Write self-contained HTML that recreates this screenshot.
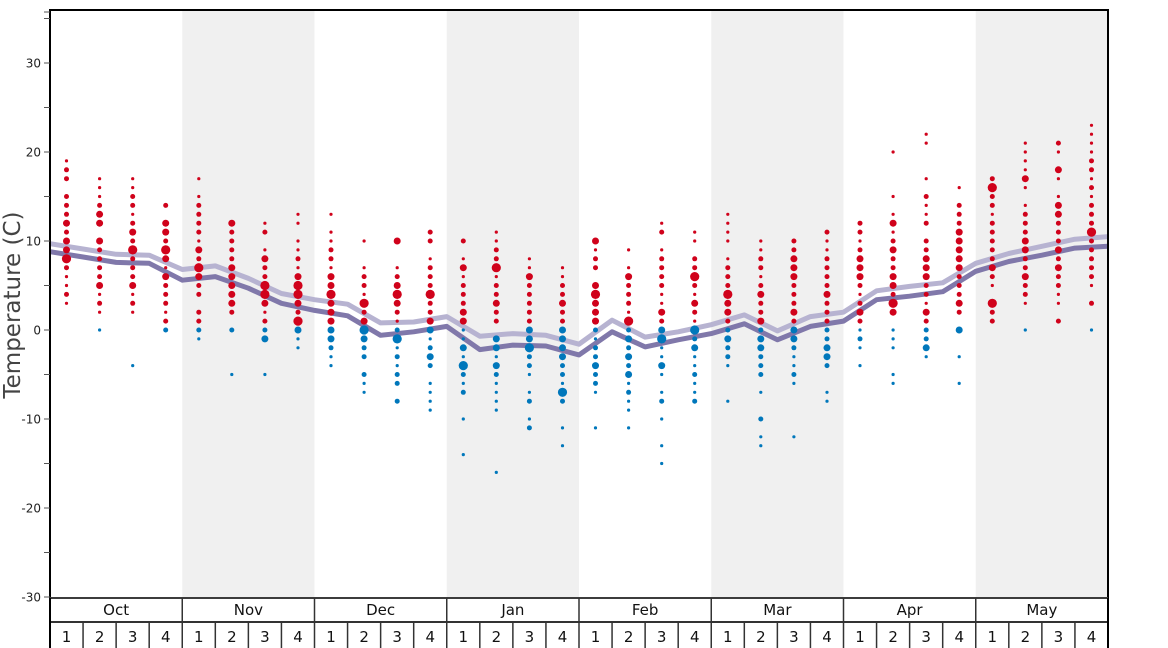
<!DOCTYPE html>
<html><head><meta charset="utf-8">
<style>
html,body{margin:0;padding:0;background:#fff;}
svg{display:block;font-family:"DejaVu Sans","Liberation Sans",sans-serif;}
</style></head>
<body>
<svg id="chart" width="1168" height="648" viewBox="0 0 1168 648"></svg>
<script>
const months = ["Oct","Nov","Dec","Jan","Feb","Mar","Apr","May"];
const weekLabels = ["1","2","3","4"];
const yTicks = [30,20,10,0,-10,-20,-30];
const yMinorTicks = [35,25,15,5,-5,-15,-25];
const lineDark = [8.8,8.2,7.6,7.5,5.6,6.0,4.7,3.0,2.2,1.6,-0.6,-0.2,0.4,-2.2,-1.7,-1.8,-2.8,-0.2,-1.9,-1.1,-0.4,0.7,-1.1,0.4,1.0,3.4,3.8,4.3,6.6,7.7,8.4,9.2,9.4];
const lineLight = [9.7,9.1,8.5,8.4,6.8,7.2,5.8,4.1,3.4,2.9,0.8,0.9,1.5,-0.7,-0.4,-0.6,-1.6,1.1,-0.8,-0.2,0.6,1.7,-0.1,1.5,2.0,4.4,4.9,5.3,7.5,8.6,9.4,10.2,10.5];
const w1=[[19,1],[18,2],[17,2],[15,2],[14,2],[13,2],[12,3],[11,2],[10,3],[9,3],[8,4],[7,2],[6,1],[5,1],[4,2],[3,1]];
const w2=[[17,1],[16,1],[15,1],[14,2],[13,3],[12,3],[10,3],[9,2],[8,2],[7,2],[6,2],[5,3],[4,1],[3,2],[2,1],[0,1]];
const w3=[[17,1],[16,1],[15,2],[14,2],[13,1],[12,2],[11,3],[10,2],[9,4],[8,2],[7,2],[6,2],[5,3],[4,1],[3,2],[2,1],[-4,1]];
const w4=[[14,2],[12,3],[11,3],[10,2],[9,4],[8,3],[7,1],[6,3],[5,2],[4,2],[3,2],[2,1],[1,2],[0,2]];
const w5=[[17,1],[15,1],[14,2],[13,2],[12,2],[11,2],[10,1],[9,3],[8,2],[7,4],[6,3],[5,2],[4,2],[2,2],[1,2],[0,2],[-1,1]];
const w6=[[12,3],[11,2],[10,2],[9,2],[8,2],[7,3],[6,3],[5,3],[4,3],[3,3],[2,2],[0,2],[-5,1]];
const w7=[[12,1],[11,2],[9,1],[8,3],[7,2],[6,2],[5,4],[4,4],[3,3],[2,1],[1,2],[0,2],[-1,3],[-5,1]];
const w8=[[13,1],[12,1],[10,1],[9,1],[8,2],[7,1],[6,3],[5,4],[4,4],[3,3],[2,2],[1,4],[0,3],[-1,1],[-2,1]];
const w9=[[13,1],[11,1],[10,1],[9,2],[8,2],[7,1],[6,3],[5,3],[4,4],[3,3],[2,3],[1,3],[0,3],[-1,3],[-2,2],[-3,1],[-4,1]];
const w10=[[10,1],[7,1],[6,2],[5,2],[4,1],[3,4],[2,2],[1,3],[0,4],[-1,3],[-2,2],[-3,2],[-5,2],[-6,1],[-7,1]];
const w11=[[10,3],[7,1],[6,2],[5,3],[4,4],[3,3],[2,2],[1,1],[0,2],[-1,4],[-2,1],[-3,2],[-4,1],[-5,2],[-6,2],[-8,2]];
const w12=[[11,2],[10,2],[8,1],[7,2],[6,2],[5,2],[4,4],[3,2],[2,2],[1,3],[0,3],[-1,1],[-2,2],[-3,3],[-4,2],[-6,1],[-7,1],[-8,1],[-9,1]];
const w13=[[10,2],[8,1],[7,3],[6,1],[5,2],[4,2],[3,2],[2,3],[1,3],[0,1],[-1,1],[-2,3],[-3,1],[-4,4],[-5,2],[-6,1],[-7,2],[-10,1],[-14,1]];
const w14=[[11,1],[10,1],[9,2],[8,2],[7,4],[6,1],[5,2],[4,2],[3,3],[2,2],[1,2],[-1,3],[-2,3],[-3,1],[-4,3],[-5,2],[-6,1],[-7,1],[-8,1],[-9,1],[-16,1]];
const w15=[[8,1],[7,1],[6,3],[5,2],[4,2],[3,2],[2,2],[1,2],[0,3],[-1,3],[-2,4],[-3,2],[-4,2],[-5,1],[-7,1],[-8,2],[-10,1],[-11,2]];
const w16=[[7,1],[6,1],[5,2],[4,2],[3,3],[2,2],[1,2],[0,3],[-1,3],[-2,3],[-3,3],[-4,2],[-5,2],[-6,1],[-7,4],[-8,2],[-11,1],[-13,1]];
const w17=[[10,3],[9,1],[8,2],[7,2],[5,3],[4,4],[3,3],[2,3],[1,3],[0,2],[-1,1],[-2,2],[-3,2],[-4,3],[-5,2],[-6,2],[-7,1],[-11,1]];
const w18=[[9,1],[7,1],[6,3],[5,2],[4,2],[3,2],[2,1],[1,4],[0,2],[-1,3],[-2,2],[-3,3],[-4,2],[-5,3],[-6,1],[-7,2],[-8,1],[-9,1],[-11,1]];
const w19=[[12,1],[11,2],[9,1],[8,2],[7,2],[6,2],[5,2],[4,1],[3,1],[2,3],[1,2],[0,3],[-1,4],[-2,1],[-3,1],[-4,3],[-5,1],[-7,1],[-8,2],[-10,1],[-13,1],[-15,1]];
const w20=[[11,1],[10,1],[8,2],[7,2],[6,4],[5,2],[4,1],[3,3],[2,2],[1,1],[0,4],[-1,2],[-2,3],[-3,1],[-4,1],[-5,2],[-6,1],[-7,1],[-8,2]];
const w21=[[13,1],[12,1],[11,1],[10,1],[8,1],[7,2],[6,2],[5,2],[4,4],[3,3],[2,3],[1,2],[0,2],[-1,3],[-2,2],[-3,2],[-4,1],[-8,1]];
const w22=[[10,1],[9,1],[8,2],[7,2],[6,1],[5,2],[4,3],[3,2],[2,2],[1,3],[0,2],[-1,3],[-2,3],[-3,2],[-4,2],[-5,2],[-7,1],[-10,2],[-12,1],[-13,1]];
const w23=[[10,2],[9,2],[8,3],[7,3],[6,3],[5,2],[4,2],[3,2],[2,3],[1,2],[0,3],[-1,3],[-2,2],[-3,1],[-4,1],[-5,2],[-6,1],[-12,1]];
const w24=[[11,2],[10,1],[9,1],[8,2],[7,2],[6,2],[5,2],[4,3],[3,2],[2,2],[1,2],[0,2],[-1,2],[-2,3],[-3,3],[-4,2],[-7,1],[-8,1]];
const w25=[[12,2],[11,2],[10,1],[9,2],[8,3],[7,3],[6,3],[5,2],[4,1],[3,2],[2,3],[1,2],[0,1],[-1,2],[-2,1],[-4,1]];
const w26=[[20,1],[15,1],[13,1],[12,3],[11,1],[10,2],[9,3],[8,2],[7,2],[6,3],[5,3],[4,2],[3,4],[2,3],[0,1],[-1,1],[-2,1],[-5,1],[-6,1]];
const w27=[[22,1],[21,1],[17,1],[15,2],[14,1],[13,1],[12,2],[10,2],[9,2],[8,3],[7,3],[6,3],[5,2],[4,2],[3,1],[2,3],[1,2],[0,2],[-1,2],[-2,3],[-3,1]];
const w28=[[16,1],[14,2],[13,2],[12,2],[11,3],[10,3],[9,3],[8,3],[7,3],[6,2],[5,2],[4,2],[3,3],[2,2],[0,3],[-3,1],[-6,1]];
const w29=[[17,2],[16,4],[15,2],[14,2],[13,1],[12,2],[11,2],[10,2],[9,2],[8,2],[7,3],[6,2],[5,1],[3,4],[2,2],[1,2]];
const w30=[[21,1],[20,1],[19,1],[18,1],[17,3],[16,1],[14,1],[13,2],[12,2],[11,2],[10,3],[9,3],[8,2],[7,2],[6,3],[5,2],[4,2],[3,1],[0,1]];
const w31=[[21,2],[20,1],[18,3],[17,1],[15,1],[14,3],[13,3],[12,2],[11,2],[10,2],[9,3],[8,2],[7,3],[6,2],[5,2],[4,1],[3,1],[1,2]];
const w32=[[23,1],[22,1],[21,1],[20,1],[19,2],[18,2],[17,1],[16,2],[15,1],[14,2],[13,2],[12,2],[11,4],[10,2],[9,2],[8,2],[7,2],[6,2],[5,1],[3,2],[0,1]];
const weeks=[w1,w2,w3,w4,w5,w6,w7,w8,w9,w10,w11,w12,w13,w14,w15,w16,w17,w18,w19,w20,w21,w22,w23,w24,w25,w26,w27,w28,w29,w30,w31,w32];

const NS="http://www.w3.org/2000/svg";
const svg=document.getElementById('chart');
const L=50,R=1108,T=10,B=598;
const yMin=-30.1,yMax=36;
const nW=32, wW=(R-L)/nW;
function yS(v){return 330-8.9*v;}
function xB(i){return L+i*wW;}
function xC(i){return L+(i+0.5)*wW;}
function el(tag,attrs,parent){const e=document.createElementNS(NS,tag);for(const k in attrs)e.setAttribute(k,attrs[k]);(parent||svg).appendChild(e);return e;}

// shaded months
months.forEach((m,i)=>{
  if(i%2===1){
    const r=el('rect',{x:xB(i*4),y:T,width:wW*4,height:B-T,fill:'#f0f0f0'});
    
    
  }
});

// lines
function drawLine(arr,color,name){
  let d=arr.map((v,i)=>(i?'L':'M')+xB(i).toFixed(1)+','+yS(v).toFixed(1)).join(' ');
  const p=el('path',{d:d,fill:'none',stroke:color,'stroke-width':5,'stroke-linejoin':'round'});
  
  
}
drawLine(lineLight,'#b7b3d1','average-high-line');
drawLine(lineDark,'#8078aa','average-low-line');

// dots
const radii=[0,1.6,2.5,3.5,4.6];
weeks.forEach((wk,i)=>{
  const g=el('g',{});
  
  
  wk.forEach(([t,s])=>{
    const c=el('circle',{cx:xC(i).toFixed(1),cy:yS(t).toFixed(1),r:radii[s],fill:t>0?'#d0021b':'#0077bb'},g);
    
    
  });
});

// axes frame
const frame=el('rect',{x:L,y:T,width:R-L,height:B-T,fill:'none',stroke:'#000','stroke-width':2});


const yax=el('g',{});


yTicks.forEach(v=>{
  el('line',{x1:44,x2:L,y1:yS(v),y2:yS(v),stroke:'#555','stroke-width':1},yax);
  const t=el('text',{x:41,y:yS(v)+4.5,'text-anchor':'end','font-size':12,fill:'#222'},yax);
  t.textContent=v;
  
  
});
yMinorTicks.forEach(v=>{
  el('line',{x1:44,x2:L,y1:yS(v),y2:yS(v),stroke:'#555','stroke-width':1},yax);
});
el('line',{x1:44,x2:L,y1:12,y2:12,stroke:'#555','stroke-width':1},yax);
const yt=el('text',{x:20,y:305,'text-anchor':'middle','font-size':23,fill:'#444',transform:'rotate(-90 20 305)'});
yt.textContent='Temperature (C)';



// bottom rows
const xg=el('g',{});


el('line',{x1:L,x2:R,y1:598,y2:598,stroke:'#777','stroke-width':1},xg);
el('line',{x1:L-1,x2:R+1,y1:622,y2:622,stroke:'#333','stroke-width':2},xg);
el('line',{x1:L,x2:L,y1:598,y2:648,stroke:'#000','stroke-width':2},xg);
el('line',{x1:R,x2:R,y1:598,y2:648,stroke:'#000','stroke-width':2},xg);
months.forEach((m,i)=>{
  if(i>0) el('line',{x1:xB(i*4),x2:xB(i*4),y1:598,y2:648,stroke:'#333','stroke-width':1.5},xg);
  const t=el('text',{x:xB(i*4)+wW*2,y:615,'text-anchor':'middle','font-size':15,fill:'#111'},xg);
  t.textContent=m;
  
  
  weekLabels.forEach((w,j)=>{
    const k=i*4+j;
    if(j>0) el('line',{x1:xB(k),x2:xB(k),y1:622,y2:648,stroke:'#333','stroke-width':1.5},xg);
    const tw=el('text',{x:xC(k),y:642,'text-anchor':'middle','font-size':15,fill:'#111'},xg);
    tw.textContent=w;
    
    
  });
});
</script>
</body></html>
